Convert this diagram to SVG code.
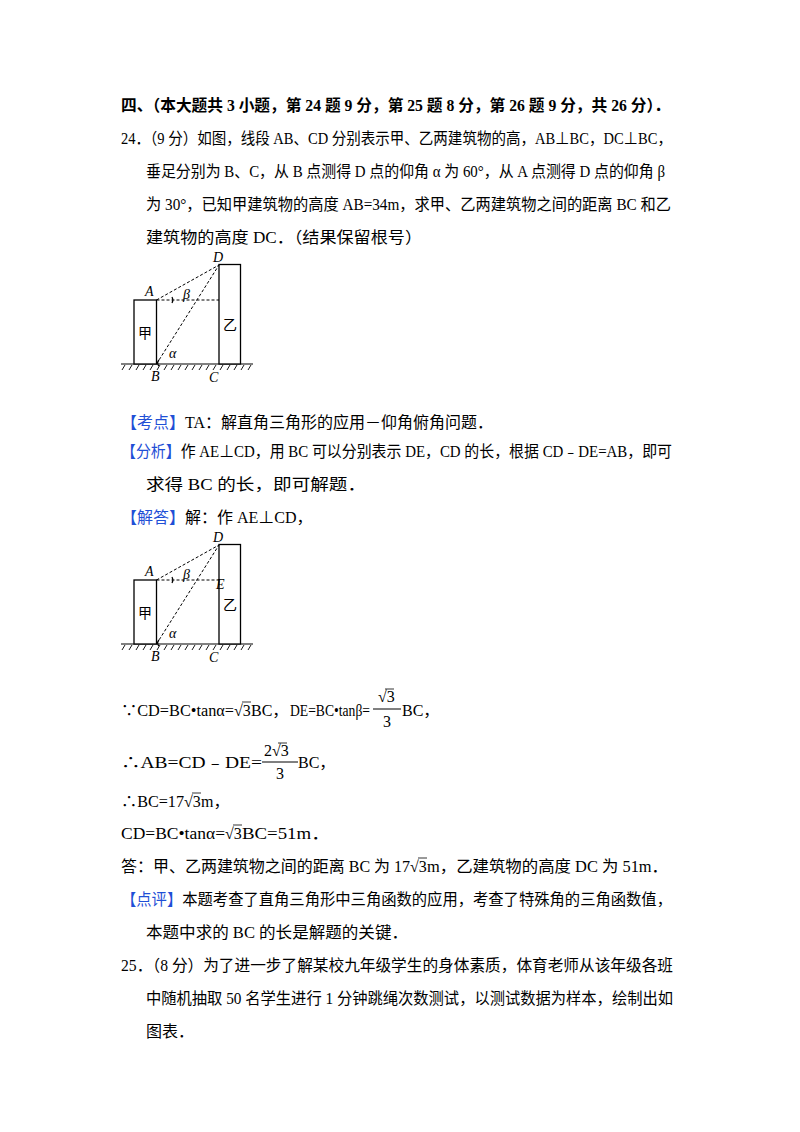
<svg xmlns="http://www.w3.org/2000/svg" width="800" height="1132" viewBox="0 0 800 1132">
<defs>
<style>
text{font-family:"Liberation Serif","Noto Sans CJK SC",serif;font-size:16px;fill:#000}
.b{fill:#1f4fd6}
.t{font-weight:bold}
.s{font-size:14px;font-style:italic}
.f{font-size:14px}
.ln{stroke:#000;stroke-width:1.2;fill:none}
.d{stroke:#000;stroke-width:1;stroke-dasharray:3,2;fill:none}
.bl{fill:#fff;stroke:#000;stroke-width:1.3}
</style>
</defs>
<rect width="800" height="1132" fill="#fff"/>
<text class="t" x="121" y="111" textLength="549" lengthAdjust="spacingAndGlyphs">四、（本大题共 3 小题，第 24 题 9 分，第 25 题 8 分，第 26 题 9 分，共 26 分）．</text>
<text x="121" y="144" textLength="551" lengthAdjust="spacingAndGlyphs">24．（9 分）如图，线段 AB、CD 分别表示甲、乙两建筑物的高，AB⊥BC，DC⊥BC，</text>
<text x="146" y="177" textLength="519" lengthAdjust="spacingAndGlyphs">垂足分别为 B、C，从 B 点测得 D 点的仰角 α 为 60°，从 A 点测得 D 点的仰角 β</text>
<text x="146" y="210" textLength="525" lengthAdjust="spacingAndGlyphs">为 30°，已知甲建筑物的高度 AB=34m，求甲、乙两建筑物之间的距离 BC 和乙</text>
<text x="146" y="243" textLength="276" lengthAdjust="spacingAndGlyphs">建筑物的高度 DC．（结果保留根号）</text>

<g id="fig1">
<line class="ln" x1="121" y1="364" x2="253" y2="364"/>
<path stroke="#000" stroke-width="0.9" d="M125 365l-3 5M132 365l-3 5M139 365l-3 5M146 365l-3 5M153 365l-3 5M160 365l-3 5M167 365l-3 5M174 365l-3 5M181 365l-3 5M188 365l-3 5M195 365l-3 5M202 365l-3 5M209 365l-3 5M216 365l-3 5M223 365l-3 5M230 365l-3 5M237 365l-3 5M244 365l-3 5M251 365l-3 5"/>
<rect class="bl" x="134" y="300" width="22.5" height="64"/>
<rect class="bl" x="219" y="264.5" width="21.5" height="99.5"/>
<path class="d" d="M156.5 300L219 265M156.5 300H219M156.5 364L219 265"/>
<path class="ln" d="M172 297a6 6 0 0 1 0 6" stroke-width="0.9"/>
<path class="ln" d="M159 360a4 4 0 0 0 0 6" stroke-width="0.9"/>
<text class="s" x="145" y="296">A</text>
<text class="s" x="213" y="262">D</text>
<text class="s" x="151" y="381">B</text>
<text class="s" x="209" y="382">C</text>
<text class="s" x="183" y="299">β</text>
<text class="s" x="169" y="358">α</text>
<text class="f" x="138" y="338">甲</text>
<text class="f" x="223" y="330">乙</text>
</g>

<text x="121" y="428"><tspan class="b">【考点】</tspan>TA：解直角三角形的应用－仰角俯角问题．</text>
<text x="121" y="457" textLength="551" lengthAdjust="spacingAndGlyphs"><tspan class="b">【分析】</tspan>作 AE⊥CD，用 BC 可以分别表示 DE，CD 的长，根据 CD﹣DE=AB，即可</text>
<text x="146" y="490" textLength="220" lengthAdjust="spacingAndGlyphs">求得 BC 的长，即可解题．</text>
<text x="121" y="523"><tspan class="b">【解答】</tspan>解：作 AE⊥CD，</text>

<g id="fig2">
<line class="ln" x1="121" y1="644" x2="253" y2="644"/>
<path stroke="#000" stroke-width="0.9" d="M125 645l-3 5M132 645l-3 5M139 645l-3 5M146 645l-3 5M153 645l-3 5M160 645l-3 5M167 645l-3 5M174 645l-3 5M181 645l-3 5M188 645l-3 5M195 645l-3 5M202 645l-3 5M209 645l-3 5M216 645l-3 5M223 645l-3 5M230 645l-3 5M237 645l-3 5M244 645l-3 5M251 645l-3 5"/>
<rect class="bl" x="134" y="580" width="22.5" height="64"/>
<rect class="bl" x="219" y="544.5" width="21.5" height="99.5"/>
<path class="d" d="M156.5 580L219 545M156.5 580H219M156.5 644L219 545"/>
<path class="ln" d="M172 577a6 6 0 0 1 0 6" stroke-width="0.9"/>
<path class="ln" d="M159 640a4 4 0 0 0 0 6" stroke-width="0.9"/>
<text class="s" x="145" y="576">A</text>
<text class="s" x="213" y="542">D</text>
<text class="s" x="216" y="589">E</text>
<text class="s" x="151" y="661">B</text>
<text class="s" x="209" y="662">C</text>
<text class="s" x="183" y="579">β</text>
<text class="s" x="169" y="638">α</text>
<text class="f" x="138" y="618">甲</text>
<text class="f" x="223" y="610">乙</text>
</g>

<g id="math">
<text x="121" y="716" textLength="113" lengthAdjust="spacingAndGlyphs">∵CD=BC•tanα=</text>
<text x="234" y="716">√3</text><line x1="242" y1="702" x2="251" y2="702" stroke="#000" stroke-width="0.8"/>
<text x="251" y="716">BC，</text>
<text x="290" y="716" textLength="80" lengthAdjust="spacingAndGlyphs">DE=BC•tanβ=</text>
<text x="378" y="702" font-size="14">√3</text><line x1="385" y1="689" x2="394" y2="689" stroke="#000" stroke-width="0.8"/>
<line x1="373" y1="709" x2="401" y2="709" stroke="#000" stroke-width="1"/>
<text x="383" y="727" font-family="Liberation Sans" font-size="14">3</text>
<text x="402" y="716">BC，</text>

<text x="121" y="768" textLength="141" lengthAdjust="spacingAndGlyphs">∴AB=CD﹣DE=</text>
<text x="264" y="756" font-size="14">2√3</text><line x1="278" y1="743" x2="287" y2="743" stroke="#000" stroke-width="0.8"/>
<line x1="262" y1="762" x2="298" y2="762" stroke="#000" stroke-width="1"/>
<text x="276" y="779" font-family="Liberation Sans" font-size="14">3</text>
<text x="298" y="768">BC，</text>

<text x="121" y="807" textLength="63" lengthAdjust="spacingAndGlyphs">∴BC=17</text>
<text x="184" y="807">√3</text><line x1="192" y1="793" x2="201" y2="793" stroke="#000" stroke-width="0.8"/>
<text x="201" y="807">m，</text>

<text x="121" y="839" textLength="104" lengthAdjust="spacingAndGlyphs">CD=BC•tanα=</text>
<text x="225" y="839">√3</text><line x1="233" y1="825" x2="242" y2="825" stroke="#000" stroke-width="0.8"/>
<text x="242" y="839" textLength="88" lengthAdjust="spacingAndGlyphs">BC=51m．</text>

<text x="121" y="872" textLength="289" lengthAdjust="spacingAndGlyphs">答：甲、乙两建筑物之间的距离 BC 为 17</text>
<text x="410" y="872">√3</text><line x1="418" y1="858" x2="427" y2="858" stroke="#000" stroke-width="0.8"/>
<text x="427" y="872" textLength="241" lengthAdjust="spacingAndGlyphs">m，乙建筑物的高度 DC 为 51m．</text>
</g>

<text x="121" y="905" textLength="551" lengthAdjust="spacingAndGlyphs"><tspan class="b">【点评】</tspan>本题考查了直角三角形中三角函数的应用，考查了特殊角的三角函数值，</text>
<text x="146" y="938" textLength="262" lengthAdjust="spacingAndGlyphs">本题中求的 BC 的长是解题的关键．</text>
<text x="121" y="971" textLength="552" lengthAdjust="spacingAndGlyphs">25．（8 分）为了进一步了解某校九年级学生的身体素质，体育老师从该年级各班</text>
<text x="146" y="1004" textLength="527" lengthAdjust="spacingAndGlyphs">中随机抽取 50 名学生进行 1 分钟跳绳次数测试，以测试数据为样本，绘制出如</text>
<text x="146" y="1037">图表．</text>
</svg>
